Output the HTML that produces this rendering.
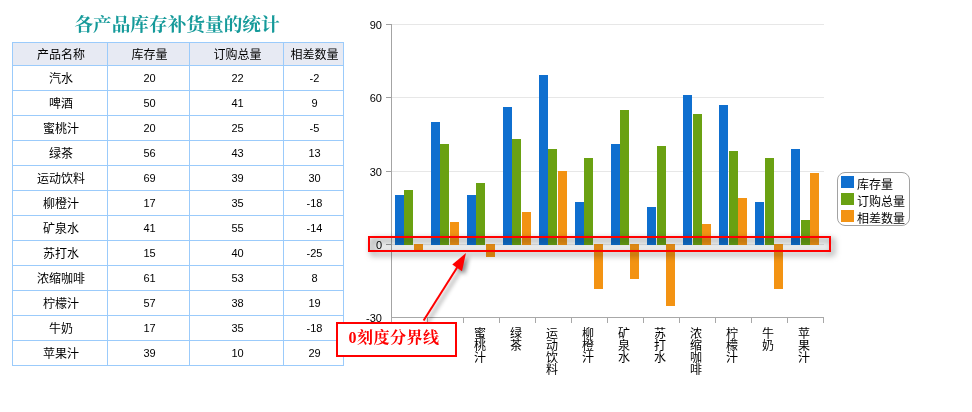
<!DOCTYPE html>
<html lang="zh-CN"><head><meta charset="utf-8"><title>各产品库存补货量的统计</title>
<style>
html,body{margin:0;padding:0;background:#fff}
body{width:972px;height:412px;position:relative;overflow:hidden;font-family:"Liberation Sans","Noto Sans CJK SC",sans-serif;font-size:12px;color:#000}
.abs,.hl,.vl,.c,.bar,.yl,.gl,.tk,.xl{position:absolute}
.title{left:0;width:354px;top:11px;height:28px;line-height:28px;text-align:center;font-family:"Liberation Serif","Noto Serif CJK SC",serif;font-weight:700;font-size:18.67px;color:#159a9a;white-space:nowrap}
.hl{height:1px;background:#9bcbfb;left:12px;width:332px}
.vl{width:1px;background:#9bcbfb;top:42px;height:324px}
.c{text-align:center;white-space:nowrap;font-size:12px}
.c.n{font-size:11px}
.gl{height:1px;background:#e7e7e7;left:392px;width:432px}
.tk{height:1px;background:#a0a0a0;left:386px;width:5px}
.yl{width:40px;left:342px;text-align:right;font-size:11px;line-height:12px;color:#000}
.xt{position:absolute;width:1px;height:5px;top:318px;background:#a8a8a8}
.xl{width:14px;text-align:center;font-size:12px;line-height:12px;top:328px}
.xl span{display:block;height:12px}
.lg{position:absolute;left:837px;top:172px;width:71px;height:52px;border:1px solid #a2a2a2;border-radius:8px;background:#fff}
.sw{position:absolute;left:841px;width:13px;height:12px}
  .lt{position:absolute;left:857px;font-size:12px;line-height:16px;white-space:nowrap}
</style></head><body>

<div class="abs title">各产品库存补货量的统计</div>
<div class="abs" style="left:13px;top:43px;width:330px;height:22px;background:#e7eaf3"></div>
<div class="hl" style="top:42px"></div>
<div class="hl" style="top:65px"></div>
<div class="hl" style="top:90px"></div>
<div class="hl" style="top:115px"></div>
<div class="hl" style="top:140px"></div>
<div class="hl" style="top:165px"></div>
<div class="hl" style="top:190px"></div>
<div class="hl" style="top:215px"></div>
<div class="hl" style="top:240px"></div>
<div class="hl" style="top:265px"></div>
<div class="hl" style="top:290px"></div>
<div class="hl" style="top:315px"></div>
<div class="hl" style="top:340px"></div>
<div class="hl" style="top:365px"></div>
<div class="vl" style="left:12px"></div>
<div class="vl" style="left:107px"></div>
<div class="vl" style="left:189px"></div>
<div class="vl" style="left:283px"></div>
<div class="vl" style="left:343px"></div>
<div class="c h" style="left:14px;width:94px;top:45px;height:22px;line-height:21px">产品名称</div>
<div class="c h" style="left:109px;width:81px;top:45px;height:22px;line-height:21px">库存量</div>
<div class="c h" style="left:191px;width:93px;top:45px;height:22px;line-height:21px">订购总量</div>
<div class="c h" style="left:285px;width:59px;top:45px;height:22px;line-height:21px">相差数量</div>
<div class="c" style="left:14px;width:94px;top:67px;height:24px;line-height:24px">汽水</div>
<div class="c n" style="left:109px;width:81px;top:66px;height:24px;line-height:24px">20</div>
<div class="c n" style="left:191px;width:93px;top:66px;height:24px;line-height:24px">22</div>
<div class="c n" style="left:285px;width:59px;top:66px;height:24px;line-height:24px">-2</div>
<div class="c" style="left:14px;width:94px;top:92px;height:24px;line-height:24px">啤酒</div>
<div class="c n" style="left:109px;width:81px;top:91px;height:24px;line-height:24px">50</div>
<div class="c n" style="left:191px;width:93px;top:91px;height:24px;line-height:24px">41</div>
<div class="c n" style="left:285px;width:59px;top:91px;height:24px;line-height:24px">9</div>
<div class="c" style="left:14px;width:94px;top:117px;height:24px;line-height:24px">蜜桃汁</div>
<div class="c n" style="left:109px;width:81px;top:116px;height:24px;line-height:24px">20</div>
<div class="c n" style="left:191px;width:93px;top:116px;height:24px;line-height:24px">25</div>
<div class="c n" style="left:285px;width:59px;top:116px;height:24px;line-height:24px">-5</div>
<div class="c" style="left:14px;width:94px;top:142px;height:24px;line-height:24px">绿茶</div>
<div class="c n" style="left:109px;width:81px;top:141px;height:24px;line-height:24px">56</div>
<div class="c n" style="left:191px;width:93px;top:141px;height:24px;line-height:24px">43</div>
<div class="c n" style="left:285px;width:59px;top:141px;height:24px;line-height:24px">13</div>
<div class="c" style="left:14px;width:94px;top:167px;height:24px;line-height:24px">运动饮料</div>
<div class="c n" style="left:109px;width:81px;top:166px;height:24px;line-height:24px">69</div>
<div class="c n" style="left:191px;width:93px;top:166px;height:24px;line-height:24px">39</div>
<div class="c n" style="left:285px;width:59px;top:166px;height:24px;line-height:24px">30</div>
<div class="c" style="left:14px;width:94px;top:192px;height:24px;line-height:24px">柳橙汁</div>
<div class="c n" style="left:109px;width:81px;top:191px;height:24px;line-height:24px">17</div>
<div class="c n" style="left:191px;width:93px;top:191px;height:24px;line-height:24px">35</div>
<div class="c n" style="left:285px;width:59px;top:191px;height:24px;line-height:24px">-18</div>
<div class="c" style="left:14px;width:94px;top:217px;height:24px;line-height:24px">矿泉水</div>
<div class="c n" style="left:109px;width:81px;top:216px;height:24px;line-height:24px">41</div>
<div class="c n" style="left:191px;width:93px;top:216px;height:24px;line-height:24px">55</div>
<div class="c n" style="left:285px;width:59px;top:216px;height:24px;line-height:24px">-14</div>
<div class="c" style="left:14px;width:94px;top:242px;height:24px;line-height:24px">苏打水</div>
<div class="c n" style="left:109px;width:81px;top:241px;height:24px;line-height:24px">15</div>
<div class="c n" style="left:191px;width:93px;top:241px;height:24px;line-height:24px">40</div>
<div class="c n" style="left:285px;width:59px;top:241px;height:24px;line-height:24px">-25</div>
<div class="c" style="left:14px;width:94px;top:267px;height:24px;line-height:24px">浓缩咖啡</div>
<div class="c n" style="left:109px;width:81px;top:266px;height:24px;line-height:24px">61</div>
<div class="c n" style="left:191px;width:93px;top:266px;height:24px;line-height:24px">53</div>
<div class="c n" style="left:285px;width:59px;top:266px;height:24px;line-height:24px">8</div>
<div class="c" style="left:14px;width:94px;top:292px;height:24px;line-height:24px">柠檬汁</div>
<div class="c n" style="left:109px;width:81px;top:291px;height:24px;line-height:24px">57</div>
<div class="c n" style="left:191px;width:93px;top:291px;height:24px;line-height:24px">38</div>
<div class="c n" style="left:285px;width:59px;top:291px;height:24px;line-height:24px">19</div>
<div class="c" style="left:14px;width:94px;top:317px;height:24px;line-height:24px">牛奶</div>
<div class="c n" style="left:109px;width:81px;top:316px;height:24px;line-height:24px">17</div>
<div class="c n" style="left:191px;width:93px;top:316px;height:24px;line-height:24px">35</div>
<div class="c n" style="left:285px;width:59px;top:316px;height:24px;line-height:24px">-18</div>
<div class="c" style="left:14px;width:94px;top:342px;height:24px;line-height:24px">苹果汁</div>
<div class="c n" style="left:109px;width:81px;top:341px;height:24px;line-height:24px">39</div>
<div class="c n" style="left:191px;width:93px;top:341px;height:24px;line-height:24px">10</div>
<div class="c n" style="left:285px;width:59px;top:341px;height:24px;line-height:24px">29</div>
<div class="gl" style="top:24px"></div>
<div class="tk" style="top:24px"></div>
<div class="yl" style="top:19px">90</div>
<div class="gl" style="top:97px"></div>
<div class="tk" style="top:97px"></div>
<div class="yl" style="top:92px">60</div>
<div class="gl" style="top:171px"></div>
<div class="tk" style="top:171px"></div>
<div class="yl" style="top:166px">30</div>
<div class="gl" style="top:244px"></div>
<div class="tk" style="top:244px"></div>
<div class="yl" style="top:239px">0</div>
<div class="yl" style="top:312px">-30</div>
<div class="abs" style="left:391px;top:24px;width:1px;height:294px;background:#a4a4a4"></div>
<div class="abs" style="left:391px;top:317px;width:433px;height:1px;background:#a8a8a8"></div>
<div class="xt" style="left:391px"></div>
<div class="xt" style="left:427px"></div>
<div class="xt" style="left:463px"></div>
<div class="xt" style="left:499px"></div>
<div class="xt" style="left:535px"></div>
<div class="xt" style="left:571px"></div>
<div class="xt" style="left:607px"></div>
<div class="xt" style="left:643px"></div>
<div class="xt" style="left:679px"></div>
<div class="xt" style="left:715px"></div>
<div class="xt" style="left:751px"></div>
<div class="xt" style="left:787px"></div>
<div class="xt" style="left:823px"></div>
<div class="bar" style="left:395px;top:195px;width:9px;height:50px;background:#0f6fcf"></div>
<div class="bar" style="left:404px;top:190px;width:9px;height:55px;background:#6aa112"></div>
<div class="bar" style="left:414px;top:244px;width:9px;height:6px;background:#f39313"></div>
<div class="xl" style="left:401px"><span>汽</span><span>水</span></div>
<div class="bar" style="left:431px;top:122px;width:9px;height:123px;background:#0f6fcf"></div>
<div class="bar" style="left:440px;top:144px;width:9px;height:101px;background:#6aa112"></div>
<div class="bar" style="left:450px;top:222px;width:9px;height:23px;background:#f39313"></div>
<div class="xl" style="left:437px"><span>啤</span><span>酒</span></div>
<div class="bar" style="left:467px;top:195px;width:9px;height:50px;background:#0f6fcf"></div>
<div class="bar" style="left:476px;top:183px;width:9px;height:62px;background:#6aa112"></div>
<div class="bar" style="left:486px;top:244px;width:9px;height:13px;background:#f39313"></div>
<div class="xl" style="left:473px"><span>蜜</span><span>桃</span><span>汁</span></div>
<div class="bar" style="left:503px;top:107px;width:9px;height:138px;background:#0f6fcf"></div>
<div class="bar" style="left:512px;top:139px;width:9px;height:106px;background:#6aa112"></div>
<div class="bar" style="left:522px;top:212px;width:9px;height:33px;background:#f39313"></div>
<div class="xl" style="left:509px"><span>绿</span><span>茶</span></div>
<div class="bar" style="left:539px;top:75px;width:9px;height:170px;background:#0f6fcf"></div>
<div class="bar" style="left:548px;top:149px;width:9px;height:96px;background:#6aa112"></div>
<div class="bar" style="left:558px;top:171px;width:9px;height:74px;background:#f39313"></div>
<div class="xl" style="left:545px"><span>运</span><span>动</span><span>饮</span><span>料</span></div>
<div class="bar" style="left:575px;top:202px;width:9px;height:43px;background:#0f6fcf"></div>
<div class="bar" style="left:584px;top:158px;width:9px;height:87px;background:#6aa112"></div>
<div class="bar" style="left:594px;top:244px;width:9px;height:45px;background:#f39313"></div>
<div class="xl" style="left:581px"><span>柳</span><span>橙</span><span>汁</span></div>
<div class="bar" style="left:611px;top:144px;width:9px;height:101px;background:#0f6fcf"></div>
<div class="bar" style="left:620px;top:110px;width:9px;height:135px;background:#6aa112"></div>
<div class="bar" style="left:630px;top:244px;width:9px;height:35px;background:#f39313"></div>
<div class="xl" style="left:617px"><span>矿</span><span>泉</span><span>水</span></div>
<div class="bar" style="left:647px;top:207px;width:9px;height:38px;background:#0f6fcf"></div>
<div class="bar" style="left:657px;top:146px;width:9px;height:99px;background:#6aa112"></div>
<div class="bar" style="left:666px;top:244px;width:9px;height:62px;background:#f39313"></div>
<div class="xl" style="left:653px"><span>苏</span><span>打</span><span>水</span></div>
<div class="bar" style="left:683px;top:95px;width:9px;height:150px;background:#0f6fcf"></div>
<div class="bar" style="left:693px;top:114px;width:9px;height:131px;background:#6aa112"></div>
<div class="bar" style="left:702px;top:224px;width:9px;height:21px;background:#f39313"></div>
<div class="xl" style="left:689px"><span>浓</span><span>缩</span><span>咖</span><span>啡</span></div>
<div class="bar" style="left:719px;top:105px;width:9px;height:140px;background:#0f6fcf"></div>
<div class="bar" style="left:729px;top:151px;width:9px;height:94px;background:#6aa112"></div>
<div class="bar" style="left:738px;top:198px;width:9px;height:47px;background:#f39313"></div>
<div class="xl" style="left:725px"><span>柠</span><span>檬</span><span>汁</span></div>
<div class="bar" style="left:755px;top:202px;width:9px;height:43px;background:#0f6fcf"></div>
<div class="bar" style="left:765px;top:158px;width:9px;height:87px;background:#6aa112"></div>
<div class="bar" style="left:774px;top:244px;width:9px;height:45px;background:#f39313"></div>
<div class="xl" style="left:761px"><span>牛</span><span>奶</span></div>
<div class="bar" style="left:791px;top:149px;width:9px;height:96px;background:#0f6fcf"></div>
<div class="bar" style="left:801px;top:220px;width:9px;height:25px;background:#6aa112"></div>
<div class="bar" style="left:810px;top:173px;width:9px;height:72px;background:#f39313"></div>
<div class="xl" style="left:797px"><span>苹</span><span>果</span><span>汁</span></div>
<div class="lg"></div>
<div class="sw" style="top:176px;background:#0f6fcf"></div>
<div class="lt" style="top:177px">库存量</div>
<div class="sw" style="top:193px;background:#6aa112"></div>
<div class="lt" style="top:194px">订购总量</div>
<div class="sw" style="top:210px;background:#f39313"></div>
<div class="lt" style="top:211px">相差数量</div>
<div class="abs" style="left:368px;top:236px;width:459px;height:12px;border:2px solid #f00;background:rgba(0,50,50,.04);filter:drop-shadow(3px 3px 3px rgba(0,0,0,.6))"></div>
<svg class="abs" style="left:400px;top:240px;filter:drop-shadow(3px 3px 2px rgba(0,0,0,.45))" width="90" height="90" viewBox="400 240 90 90">
<line x1="423.6" y1="320.5" x2="459" y2="264.5" stroke="#f00" stroke-width="2"/>
<polygon points="466,253 452.3,264.4 462,271.2" fill="#f00"/></svg>
<div class="abs" style="left:336px;top:322px;width:117px;height:31px;border:2px solid #f00;background:#fff;text-align:center;line-height:27px;text-indent:-5px;font-family:'Liberation Serif','Noto Serif CJK SC',serif;font-weight:700;font-size:16px;color:#f00;white-space:nowrap;letter-spacing:0.5px">0刻度分界线</div>
</body></html>
